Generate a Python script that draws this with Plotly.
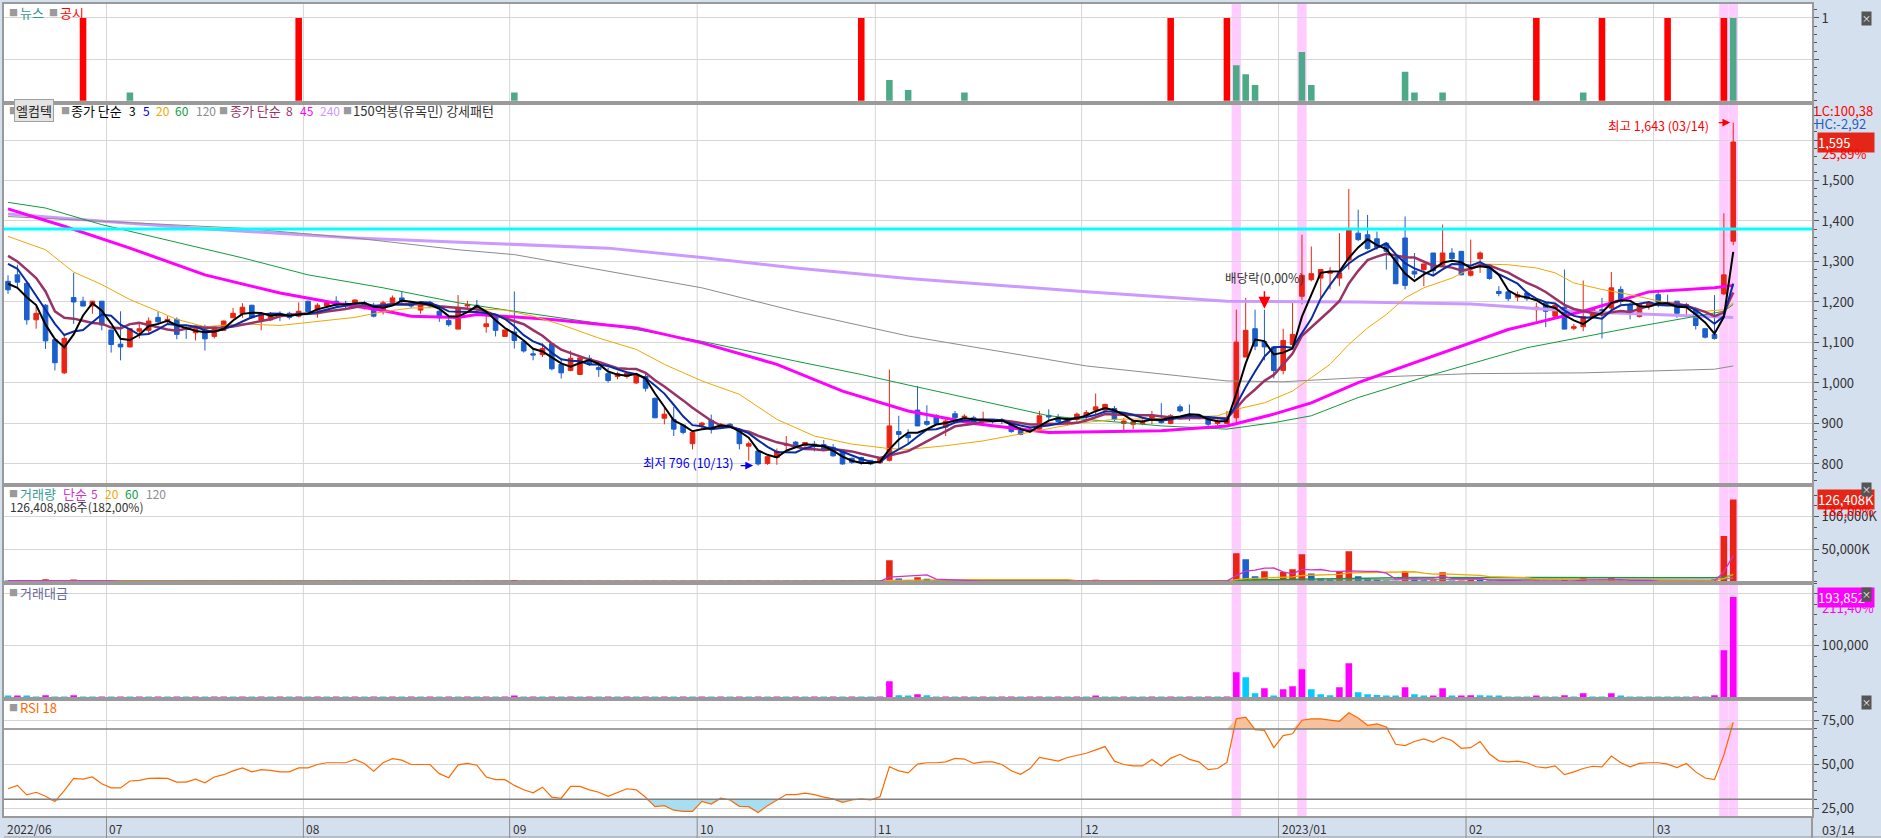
import pandas as pd
import plotly.graph_objects as go
from plotly.subplots import make_subplots

# KRX trading days shown on the chart (2022-06-16 .. 2023-03-14)
holidays = ['2022-08-15', '2022-09-09', '2022-09-12', '2022-10-03', '2022-10-10',
            '2022-12-30', '2023-01-23', '2023-01-24', '2023-03-01']
days = pd.bdate_range('2022-06-16', '2023-03-14')
days = days[~days.isin(pd.to_datetime(holidays))]
dates = [d.strftime('%Y-%m-%d') for d in days]

opens = [1251, 1267, 1246, 1156, 1192, 1107, 1025, 1211, 1202, 1190,
         1202, 1131, 1096, 1089, 1128, 1130, 1162, 1153, 1157, 1135,
         1124, 1131, 1115, 1130, 1161, 1171, 1192, 1155, 1156, 1172,
         1172, 1165, 1202, 1180, 1190, 1202, 1197, 1197, 1198, 1192,
         1176, 1199, 1210, 1199, 1180, 1199, 1177, 1154, 1133, 1190,
         1192, 1139, 1163, 1115, 1126, 1102, 1072, 1070, 1097, 1046,
         1031, 1021, 1061, 1038, 1023, 1016, 1016, 1000, 1016, 962,
         913, 910, 896, 850, 896, 908, 890, 898, 886, 844,
         832, 801, 816, 846, 854, 846, 849, 848, 841, 834,
         814, 816, 809, 803, 809, 880, 872, 933, 905, 919,
         891, 924, 914, 914, 905, 908, 910, 902, 886, 882,
         886, 920, 914, 900, 910, 920, 933, 933, 937, 900,
         898, 900, 910, 906, 900, 941, 922, 921, 913, 900,
         900, 914, 1064, 1134, 1102, 1089, 1031, 1095, 1214, 1255,
         1259, 1271, 1259, 1304, 1370, 1366, 1356, 1345, 1310, 1358,
         1276, 1280, 1321, 1292, 1321, 1325, 1266, 1307, 1292, 1226,
         1225, 1212, 1222, 1181, 1198, 1165, 1187, 1135, 1139, 1165,
         1181, 1185, 1231, 1194, 1164, 1192, 1218, 1198, 1202, 1190,
         1184, 1134, 1120, 1220, 1350]
highs = [1266, 1292, 1250, 1189, 1195, 1110, 1120, 1272, 1213, 1203,
         1202, 1131, 1177, 1136, 1146, 1162, 1176, 1165, 1162, 1143,
         1136, 1144, 1140, 1154, 1185, 1197, 1193, 1175, 1175, 1177,
         1176, 1199, 1203, 1197, 1203, 1214, 1203, 1206, 1203, 1198,
         1203, 1216, 1225, 1202, 1199, 1203, 1187, 1161, 1217, 1203,
         1205, 1165, 1165, 1131, 1226, 1103, 1087, 1098, 1099, 1062,
         1080, 1062, 1069, 1047, 1038, 1028, 1028, 1023, 1023, 964,
         941, 941, 896, 878, 904, 922, 901, 901, 886, 855,
         832, 819, 838, 869, 857, 854, 857, 859, 849, 834,
         816, 818, 809, 816, 1033, 919, 886, 992, 945, 923,
         910, 931, 923, 919, 929, 910, 913, 906, 891, 891,
         931, 935, 923, 914, 927, 933, 974, 949, 943, 914,
         910, 910, 931, 950, 923, 947, 947, 923, 916, 910,
         931, 1181, 1210, 1181, 1181, 1091, 1134, 1202, 1366, 1337,
         1280, 1286, 1370, 1479, 1428, 1415, 1374, 1345, 1313, 1411,
         1321, 1294, 1321, 1391, 1333, 1325, 1354, 1325, 1292, 1239,
         1226, 1226, 1226, 1198, 1202, 1198, 1280, 1146, 1253, 1185,
         1210, 1274, 1239, 1198, 1198, 1202, 1226, 1218, 1202, 1198,
         1187, 1136, 1217, 1419, 1643]
lows = [1220, 1235, 1144, 1134, 1084, 1031, 1022, 1146, 1189, 1171,
        1130, 1075, 1056, 1088, 1110, 1120, 1143, 1144, 1108, 1109,
        1105, 1080, 1110, 1129, 1160, 1161, 1159, 1130, 1153, 1153,
        1157, 1162, 1174, 1161, 1185, 1185, 1185, 1190, 1181, 1162,
        1169, 1198, 1192, 1185, 1171, 1185, 1151, 1139, 1133, 1181,
        1177, 1124, 1115, 1115, 1085, 1075, 1056, 1064, 1031, 1011,
        1029, 1021, 1042, 1015, 1001, 1009, 1011, 998, 979, 913,
        898, 869, 873, 836, 886, 875, 886, 890, 836, 808,
        796, 798, 798, 831, 839, 840, 831, 832, 818, 798,
        800, 798, 797, 800, 806, 836, 849, 893, 894, 898,
        869, 910, 906, 898, 896, 900, 898, 877, 871, 877,
        882, 908, 900, 896, 900, 906, 923, 927, 906, 877,
        886, 896, 898, 900, 898, 927, 906, 910, 894, 896,
        898, 902, 1064, 1081, 1056, 1011, 1021, 1087, 1194, 1251,
        1210, 1231, 1239, 1280, 1350, 1329, 1329, 1280, 1245, 1231,
        1259, 1239, 1267, 1288, 1302, 1266, 1263, 1272, 1255, 1214,
        1202, 1202, 1203, 1153, 1138, 1162, 1133, 1130, 1128, 1162,
        1110, 1171, 1194, 1157, 1162, 1181, 1187, 1190, 1161, 1165,
        1132, 1110, 1107, 1217, 1340]
closes = [1230, 1249, 1156, 1172, 1104, 1050, 1110, 1200, 1190, 1202,
          1143, 1095, 1089, 1134, 1134, 1153, 1151, 1157, 1120, 1132,
          1134, 1109, 1138, 1153, 1172, 1187, 1161, 1171, 1167, 1169,
          1162, 1177, 1176, 1192, 1198, 1192, 1194, 1205, 1194, 1165,
          1198, 1210, 1202, 1190, 1199, 1190, 1161, 1144, 1187, 1194,
          1189, 1146, 1130, 1131, 1105, 1079, 1069, 1085, 1035, 1025,
          1061, 1062, 1046, 1033, 1006, 1023, 1024, 1021, 987, 914,
          923, 886, 878, 878, 901, 886, 898, 894, 850, 850,
          800, 818, 831, 849, 844, 853, 844, 834, 820, 800,
          804, 803, 800, 814, 894, 873, 865, 894, 898, 900,
          906, 914, 918, 900, 910, 906, 905, 880, 873, 886,
          919, 916, 905, 910, 923, 927, 941, 947, 910, 906,
          904, 904, 921, 902, 919, 931, 919, 914, 898, 905,
          914, 1101, 1130, 1091, 1089, 1031, 1105, 1120, 1266, 1270,
          1280, 1276, 1272, 1378, 1354, 1332, 1335, 1325, 1245, 1241,
          1269, 1294, 1277, 1321, 1307, 1267, 1276, 1321, 1258, 1221,
          1208, 1218, 1208, 1187, 1177, 1192, 1133, 1139, 1164, 1182,
          1176, 1235, 1202, 1172, 1194, 1198, 1198, 1195, 1172, 1194,
          1142, 1113, 1110, 1267, 1595]

# volume in thousand shares, trading value in million won
volume = [2110, 2160, 2070, 850, 4090, 1710, 1080, 3830, 1260, 750,
          960, 700, 870, 610, 780, 520, 700, 610, 780, 520,
          700, 520, 610, 780, 520, 700, 610, 780, 520, 700,
          610, 780, 520, 700, 610, 780, 520, 700, 610, 780,
          520, 700, 610, 780, 520, 700, 610, 780, 520, 700,
          600, 770, 520, 700, 2900, 650, 840, 560, 750, 660,
          860, 570, 760, 680, 880, 590, 780, 690, 900, 640,
          880, 780, 1000, 690, 890, 780, 1000, 670, 930, 820,
          1100, 730, 980, 830, 1060, 710, 950, 830, 1080, 740,
          1000, 870, 750, 1110, 33300, 5100, 3000, 7200, 5000, 1330,
          1650, 1090, 1420, 1000, 1210, 770, 1000, 1360, 920, 1130,
          1960, 980, 1210, 880, 1080, 970, 3380, 1590, 1070, 1330,
          1000, 890, 1200, 1000, 1310, 860, 980, 770, 1110, 880,
          2080, 44100, 34900, 8700, 16400, 2500, 15400, 19500, 42600, 12800,
          5100, 3600, 16400, 47200, 8700, 5100, 3800, 2000, 1900, 16400,
          5100, 2600, 2700, 14900, 2100, 2300, 3600, 3400, 2100, 2050,
          1070, 990, 820, 2200, 760, 680, 3900, 880, 7200, 1020,
          850, 6900, 2150, 850, 760, 670, 580, 545, 510, 470,
          1050, 810, 4050, 70300, 126408]
amount = [2600, 2700, 2400, 1000, 4500, 1800, 1200, 4600, 1500, 900,
          1100, 800, 1000, 700, 900, 600, 800, 700, 900, 600,
          800, 600, 700, 900, 600, 800, 700, 900, 600, 800,
          700, 900, 600, 800, 700, 900, 600, 800, 700, 900,
          600, 800, 700, 900, 600, 800, 700, 900, 600, 800,
          700, 900, 600, 800, 3200, 700, 900, 600, 800, 700,
          900, 600, 800, 700, 900, 600, 800, 700, 900, 600,
          800, 700, 900, 600, 800, 700, 900, 600, 800, 700,
          900, 600, 800, 700, 900, 600, 800, 700, 900, 600,
          800, 700, 600, 900, 31400, 4500, 2600, 6400, 4500, 1200,
          1500, 1000, 1300, 900, 1100, 700, 900, 1200, 800, 1000,
          1800, 900, 1100, 800, 1000, 900, 3200, 1500, 1000, 1200,
          900, 800, 1100, 900, 1200, 800, 900, 700, 1000, 800,
          1900, 48700, 39100, 8300, 17900, 2600, 16000, 21800, 54500, 16000,
          6400, 4500, 19900, 66000, 10300, 6400, 5100, 2600, 2500, 19900,
          6400, 3200, 3300, 17900, 2600, 2800, 4500, 4400, 2600, 2500,
          1300, 1200, 1000, 2600, 900, 800, 4500, 1000, 8300, 1200,
          1000, 8300, 2600, 1000, 900, 800, 700, 650, 600, 550,
          1200, 900, 4500, 91000, 193852]

rsi18 = [36.0, 37.9, 32.5, 34.0, 31.7, 28.7, 35.0, 41.9, 41.5, 42.7,
         38.8, 36.5, 36.5, 40.4, 40.8, 41.9, 42.1, 41.9, 39.8, 39.8,
         41.5, 39.4, 42.7, 44.0, 46.2, 47.9, 45.6, 46.9, 46.5, 45.6,
         45.6, 47.9, 47.9, 49.8, 50.8, 50.8, 50.8, 52.7, 50.4, 46.0,
         50.8, 53.1, 52.3, 49.8, 49.8, 49.8, 44.6, 42.3, 49.6, 50.4,
         49.4, 42.7, 41.2, 41.2, 37.9, 35.4, 33.7, 36.9, 31.2, 30.6,
         37.3, 37.3, 35.4, 34.0, 31.7, 34.0, 36.0, 35.4, 31.2, 25.8,
         26.4, 23.8, 23.1, 23.1, 28.8, 27.3, 30.6, 29.6, 26.0, 25.8,
         22.5, 26.4, 29.6, 32.7, 32.7, 33.5, 32.7, 31.2, 30.2, 28.3,
         29.6, 30.2, 29.6, 31.5, 48.5, 46.2, 45.0, 50.0, 50.8, 50.8,
         51.3, 53.3, 52.9, 50.4, 51.3, 51.3, 49.8, 46.2, 44.2, 47.5,
         53.8, 52.7, 51.7, 53.8, 55.2, 56.2, 58.1, 60.0, 51.7, 49.8,
         49.0, 49.0, 52.7, 49.0, 53.3, 55.6, 52.7, 51.3, 46.9, 47.5,
         51.0, 75.8, 76.7, 69.6, 69.2, 59.4, 66.2, 67.3, 75.0, 75.8,
         75.8, 75.0, 74.4, 79.2, 76.3, 72.1, 72.9, 71.2, 61.3, 60.6,
         62.9, 64.4, 62.5, 65.2, 63.5, 59.0, 59.4, 62.9, 55.8, 51.9,
         51.3, 51.7, 50.8, 48.5, 47.9, 49.0, 44.0, 45.6, 47.5, 48.8,
         48.5, 54.6, 50.8, 48.5, 50.4, 50.8, 50.8, 50.0, 48.1, 50.4,
         45.6, 42.1, 41.2, 55.2, 73.8]

# 공시 (disclosures) and 뉴스 (news) counts
notice_idx = [8, 31, 91, 124, 130, 163, 170, 177, 183]
notice_val = [1] * len(notice_idx)
news_idx = [13, 54, 94, 96, 102, 131, 132, 133, 138, 139, 149, 150, 153, 168, 184]
news_val = [0.1, 0.1, 0.25, 0.13, 0.1, 0.43, 0.32, 0.19, 0.59, 0.19, 0.35, 0.1, 0.1, 0.1, 1.0]

# short MAs: values before enough history
ma3_head = [1245, 1235]
ma5_head = [1294, 1282, 1250, 1215]
ma8_head = [1314, 1300, 1280, 1259, 1226, 1177, 1161]

# long MAs as (day index, value)
ma20_pts = [(0, 1362), (4, 1329), (6, 1292), (7, 1274), (10, 1243), (13, 1206), (16, 1177),
            (18, 1157), (21, 1139), (25, 1146), (29, 1142), (32, 1149), (37, 1162), (40, 1176),
            (43, 1185), (48, 1187), (49, 1184), (53, 1180), (56, 1165), (59, 1144), (63, 1111),
            (67, 1083), (70, 1046), (74, 1005), (78, 972), (82, 910), (86, 869), (90, 849),
            (94, 838), (96, 836), (100, 845), (104, 857), (110, 882), (114, 900), (118, 910),
            (123, 912), (129, 919), (131, 935), (134, 951), (137, 980), (139, 1013), (141, 1046),
            (143, 1095), (144, 1116), (145, 1136), (147, 1169), (149, 1210), (151, 1235),
            (154, 1259), (157, 1294), (160, 1292), (163, 1284), (165, 1272), (167, 1247),
            (170, 1231), (173, 1218), (177, 1198), (181, 1177), (183, 1181), (184, 1198)]
ma60_pts = [(0, 1446), (4, 1432), (10, 1391), (16, 1358), (25, 1309), (32, 1267), (40, 1235),
            (48, 1198), (54, 1177), (64, 1144), (74, 1103), (84, 1054), (91, 1021), (96, 995),
            (103, 960), (111, 919), (115, 910), (123, 894), (130, 886), (135, 902), (139, 919),
            (144, 964), (152, 1021), (162, 1087), (173, 1136), (183, 1177), (184, 1194)]
ma120_pts = [(0, 1411), (10, 1399), (25, 1382), (37, 1358), (48, 1329), (54, 1317), (64, 1276),
             (74, 1235), (84, 1177), (96, 1116), (115, 1042), (130, 1005), (136, 1003),
             (144, 1013), (156, 1023), (168, 1025), (182, 1034), (184, 1042)]
ma45_pts = [(0, 1430), (6, 1387), (13, 1333), (21, 1267), (29, 1222), (35, 1197), (40, 1179),
            (43, 1165), (48, 1162), (50, 1169), (58, 1157), (67, 1136), (74, 1099), (82, 1046),
            (89, 980), (96, 931), (103, 900), (111, 878), (123, 882), (130, 894), (135, 923),
            (139, 951), (144, 1001), (152, 1066), (160, 1132), (168, 1177), (175, 1225),
            (182, 1235), (184, 1241)]
ma240_pts = [(0, 1417), (20, 1382), (37, 1358), (48, 1348), (64, 1333), (74, 1310), (84, 1284),
             (96, 1258), (115, 1225), (130, 1202), (144, 1200), (156, 1195), (168, 1176),
             (184, 1162)]

trend_level = 1380          # cyan price line
highlight_days = [131, 138, 183, 184]

UP, DN = '#ea2414', '#1b5fcc'
N = len(dates)
assert N == len(opens) == len(closes) == len(volume) == len(amount) == len(rsi18)

closes_s = pd.Series(closes, dtype=float)
ma3 = closes_s.rolling(3).mean()
ma3.iloc[:len(ma3_head)] = ma3_head
ma5 = closes_s.rolling(5).mean()
ma5.iloc[:len(ma5_head)] = ma5_head
ma8 = closes_s.rolling(8).mean()
ma8.iloc[:len(ma8_head)] = ma8_head

vol_s = pd.Series(volume, dtype=float)
vol_colors = [DN] + [UP if volume[i] > volume[i - 1] else DN for i in range(1, N)]
amt_colors = ['#00ccff'] + ['#ff00ff' if amount[i] > amount[i - 1] else '#00ccff' for i in range(1, N)]

fig = make_subplots(rows=5, cols=1, shared_xaxes=True, vertical_spacing=0,
                    row_heights=[99, 383, 98, 117, 117])

# news / disclosures
fig.add_trace(go.Bar(x=[dates[i] for i in notice_idx], y=notice_val, width=0.7,
                     marker=dict(color='#ff0000', line_width=0)), 1, 1)
fig.add_trace(go.Bar(x=[dates[i] for i in news_idx], y=news_val, width=0.7,
                     marker=dict(color='#4daa88', line_width=0)), 1, 1)


def pts_line(pts, color, width):
    return go.Scatter(x=[dates[i] for i, _ in pts], y=[v for _, v in pts], mode='lines',
                      line=dict(color=color, width=width))


fig.add_trace(pts_line(ma240_pts, '#cc99ff', 3), 2, 1)
fig.add_trace(pts_line(ma120_pts, '#8c8c8c', 1), 2, 1)
fig.add_trace(pts_line(ma60_pts, '#139a3c', 1), 2, 1)
fig.add_trace(pts_line(ma45_pts, '#ff00ff', 3), 2, 1)
fig.add_trace(pts_line(ma20_pts, '#f0a800', 1), 2, 1)

fig.add_trace(go.Candlestick(x=dates, open=opens, high=highs, low=lows, close=closes,
                             whiskerwidth=0,
                             increasing=dict(line=dict(color=UP, width=1), fillcolor=UP),
                             decreasing=dict(line=dict(color=DN, width=1), fillcolor=DN)), 2, 1)

fig.add_trace(go.Scatter(x=dates, y=ma8, mode='lines', line=dict(color='#993366', width=2.5)), 2, 1)
fig.add_trace(go.Scatter(x=dates, y=ma5, mode='lines', line=dict(color='#0a2ca0', width=2)), 2, 1)
fig.add_trace(go.Scatter(x=dates, y=ma3, mode='lines', line=dict(color='#000000', width=2)), 2, 1)

# volume
fig.add_trace(go.Bar(x=dates, y=volume, width=0.7, marker=dict(color=vol_colors, line_width=0)), 3, 1)
for n, c in [(120, '#8c8c8c'), (60, '#139a3c'), (20, '#f0a800'), (5, '#cc33cc')]:
    fig.add_trace(go.Scatter(x=dates, y=vol_s.rolling(n, min_periods=1).mean(), mode='lines',
                             line=dict(color=c, width=1.3)), 3, 1)

# trading value
fig.add_trace(go.Bar(x=dates, y=amount, width=0.7, marker=dict(color=amt_colors, line_width=0)), 4, 1)

# RSI with overbought / oversold fills
fig.add_trace(go.Scatter(x=dates, y=[70] * N, mode='lines', line=dict(width=0)), 5, 1)
fig.add_trace(go.Scatter(x=dates, y=[max(v, 70) for v in rsi18], mode='lines', line=dict(width=0),
                         fill='tonexty', fillcolor='#f6c29e'), 5, 1)
fig.add_trace(go.Scatter(x=dates, y=[30] * N, mode='lines', line=dict(width=0)), 5, 1)
fig.add_trace(go.Scatter(x=dates, y=[min(v, 30) for v in rsi18], mode='lines', line=dict(width=0),
                         fill='tonexty', fillcolor='#a8def2'), 5, 1)
fig.add_trace(go.Scatter(x=dates, y=rsi18, mode='lines', line=dict(color='#ff6a00', width=1.2)), 5, 1)

AX = '#9a9a9a'
GRID = '#d6d6d6'
fig.update_xaxes(type='category', categoryorder='array', categoryarray=dates,
                 range=[-0.43, 192.4], showgrid=False, showticklabels=False, ticks='',
                 showline=True, linecolor=AX, linewidth=2, mirror=True,
                 rangeslider_visible=False)
fig.update_yaxes(side='right', showline=True, linecolor=AX, linewidth=2, mirror=True,
                 ticks='outside', ticklen=5, tickcolor='#555', gridcolor=GRID, zeroline=False,
                 tickfont=dict(size=13, color='#333'))
fig.update_yaxes(row=1, range=[-0.024, 1.169], tickvals=[0.5, 1], ticktext=['', '1'],
                 minor=dict(ticks='outside', ticklen=3, dtick=0.1, tick0=0, tickcolor='#555'))
fig.update_yaxes(row=2, range=[748.5, 1692], dtick=100, tick0=0, tickformat=',d',
                 minor=dict(ticks='outside', ticklen=3, dtick=20, tick0=0, tickcolor='#555'))
fig.update_yaxes(row=3, range=[-1000, 149000], tickvals=[50000, 100000],
                 ticktext=['50,000K', '100,000K'],
                 minor=dict(ticks='outside', ticklen=3, dtick=50000 / 3, tick0=0, tickcolor='#555'))
fig.update_yaxes(row=4, range=[-3300, 221700], tickvals=[100000, 200000],
                 ticktext=['100,000', '200,000'],
                 minor=dict(ticks='outside', ticklen=3, dtick=20000, tick0=0, tickcolor='#555'))
fig.update_yaxes(row=5, range=[20.5, 86.9], tickvals=[25, 50, 75],
                 ticktext=['25,00', '50,00', '75,00'],
                 minor=dict(ticks='outside', ticklen=3, dtick=5, tick0=0, tickcolor='#555'))

shapes = []
# month boundaries
month_starts = [i for i in range(1, N) if dates[i][5:7] != dates[i - 1][5:7]]
for b in month_starts:
    shapes.append(dict(type='line', xref='x5', yref='paper', x0=b - 0.5, x1=b - 0.5, y0=0, y1=1,
                       line=dict(color=GRID, width=1), layer='below'))
    shapes.append(dict(type='line', xref='x5', yref='paper', x0=b - 0.5, x1=b - 0.5,
                       y0=-22 / 814, y1=0, line=dict(color='#8a8a8a', width=1)))
for d in highlight_days:
    shapes.append(dict(type='rect', xref='x5', yref='paper', x0=d - 0.5, x1=d + 0.5, y0=0, y1=1,
                       fillcolor='#ffccff', line_width=0, layer='below'))
shapes.append(dict(type='line', xref='x2 domain', yref='y2', x0=0, x1=1, y0=trend_level,
                   y1=trend_level, line=dict(color='#00ffff', width=3)))
for lvl in (70, 30):
    shapes.append(dict(type='line', xref='x5 domain', yref='y5', x0=0, x1=1, y0=lvl, y1=lvl,
                       line=dict(color='#808080', width=1.5)))
shapes.append(dict(type='line', xref='paper', yref='paper', x0=1, x1=1, y0=-22 / 814, y1=0,
                   line=dict(color=AX, width=2)))
shapes.append(dict(type='line', xref='paper', yref='paper', x0=0, x1=1.04, y0=-21 / 814,
                   y1=-21 / 814, line=dict(color=AX, width=1)))

ann = []


def put(x_px, y_px, text, color, size=12, **kw):
    # text item placed at a pixel spot of the 1881x838 canvas (left edge, vertical middle)
    d = dict(xref='paper', x=(x_px - 2) / 1810, xanchor='left', yref='paper',
             y=(816 - y_px) / 814, yanchor='middle', text=text, showarrow=False,
             font=dict(size=size, color=color))
    d.update(kw)
    ann.append(d)


def icon(x_px, y_px):
    put(x_px - 2, y_px, '■', '#9a9a9a', size=9)


# panel headers
icon(7, 11); put(16, 11, '뉴스', '#339988', size=13); icon(47, 11); put(56, 11, '공시', '#ff0000', size=13)

icon(7, 109)
put(12, 109, '엘컴텍', '#222', size=13, bgcolor='#e4e4e4', bordercolor='#a0a0a0', borderwidth=1,
    borderpad=1)
icon(59, 109)
put(67, 109, '종가 단순', '#000', size=13)
put(125, 109, '3', '#000')
put(139, 109, '5', '#0000cc')
put(152, 109, '20', '#f0a800')
put(171, 109, '60', '#139a3c')
put(192, 109, '120', '#8c8c8c')
icon(217, 109)
put(226, 109, '종가 단순', '#993366', size=13)
put(282, 109, '8', '#993366')
put(296, 109, '45', '#ff00ff')
put(316, 109, '240', '#cc99ff')
icon(341, 109)
put(349, 109, '150억봉(유목민) 강세패턴', '#333', size=13)

icon(7, 493)
put(16, 493, '거래량', '#339999', size=13)
put(59, 493, '단순', '#cc33cc', size=13)
put(87, 493, '5', '#cc33cc')
put(101, 493, '20', '#f0a800')
put(121, 493, '60', '#139a3c')
put(142, 493, '120', '#8c8c8c')
put(6, 506, '126,408,086주(182,00%)', '#333')

icon(7, 592); put(16, 592, '거래대금', '#666699', size=13)
icon(7, 707); put(16, 707, 'RSI 18', '#ff6a00', size=13)

# chart markers
ann.append(dict(xref='x2', yref='y2', x=80, y=796, text='', showarrow=True, ax=-19, ay=0,
                arrowhead=2, arrowsize=1.2, arrowwidth=1.3, arrowcolor='#0000ee', standoff=5))
ann.append(dict(xref='x2', yref='y2', x=80, y=796, xanchor='right', xshift=-22, yshift=3,
                text='최저 796 (10/13)', showarrow=False, font=dict(size=12.5, color='#0000ee')))
ann.append(dict(xref='x2', yref='y2', x=184, y=1643, text='', showarrow=True, ax=-16, ay=0,
                arrowhead=2, arrowsize=1.2, arrowwidth=1.3, arrowcolor='#ff0000', standoff=3))
ann.append(dict(xref='x2', yref='y2', x=184, y=1643, xanchor='right', xshift=-22, yshift=-3,
                text='최고 1,643 (03/14)', showarrow=False, font=dict(size=12.5, color='#ff0000')))
ann.append(dict(xref='x2', yref='y2', x=134, y=1181, text='', showarrow=True, ax=0, ay=-20,
                arrowhead=2, arrowsize=1.6, arrowwidth=1.5, arrowcolor='#ff0000', standoff=1))
ann.append(dict(xref='x2', yref='y2', x=134, y=1181, yanchor='bottom', yshift=21,
                text='배당락(0,00%)', showarrow=False, font=dict(size=12.5, color='#333')))

# right-side value labels


def side(yref, y, text, color, xs=1, box=None):
    d = dict(xref='paper', x=1, xanchor='left', xshift=xs, yref=yref, y=y, text=text,
             showarrow=False, font=dict(size=13, color=color), align='left')
    if box:
        d.update(bgcolor=box, width=56, borderpad=0)
    ann.append(d)


side('y2', 1672, 'LC:100,38', '#ff0000')
side('y2', 1642, 'HC:-2,92', '#1f5fbf')
side('y2', closes[-1], '1,595', '#ffffff', xs=5, box='#e42618')
side('y2', 1566, '25,89%', '#ff0000', xs=8)
side('y3', volume[-1], '126,408K', '#ffffff', xs=5, box='#e42618')
side('y3', 110000, '182,00%', '#ff0000', xs=8)
side('y4', amount[-1], '193,852', '#ffffff', xs=5, box='#ff00ff')
side('y4', 173650, '211,40%', '#ff00ff', xs=8)

for py in (9, 489, 601, 710):
    ann.append(dict(xref='paper', x=(1872 - 2) / 1810, yref='paper', y=(816 - py) / 814,
                    text='×', showarrow=False, bgcolor='#555555', borderpad=0,
                    font=dict(size=9, color='#ffffff')))

# bottom month labels
labels = [('2022/06', 0)] + [(('2023/' if dates[b][5:7] == '01' else '') + dates[b][5:7], b)
                             for b in month_starts]
for txt, b in labels:
    ann.append(dict(xref='x5', x=max(b - 0.5, -0.43), xanchor='left', xshift=1, yref='paper', y=0,
                    yanchor='top', yshift=-2, text=txt, showarrow=False,
                    font=dict(size=12, color='#333')))
ann.append(dict(xref='paper', x=1, xanchor='left', xshift=8, yref='paper', y=0, yanchor='top',
                yshift=-2, text='03/14', showarrow=False, font=dict(size=12.5, color='#333')))

fig.update_layout(width=1881, height=838, margin=dict(l=2, r=69, t=2, b=22),
                  paper_bgcolor='#d5e0ee', plot_bgcolor='#ffffff', barmode='overlay',
                  showlegend=False, hovermode=False, shapes=shapes, annotations=ann,
                  font=dict(family='Noto Sans CJK KR, Noto Sans, sans-serif', size=13, color='#333'))

fig.write_html("out.html", config={'displayModeBar': False},
               post_script="document.body.style.margin='0';")
